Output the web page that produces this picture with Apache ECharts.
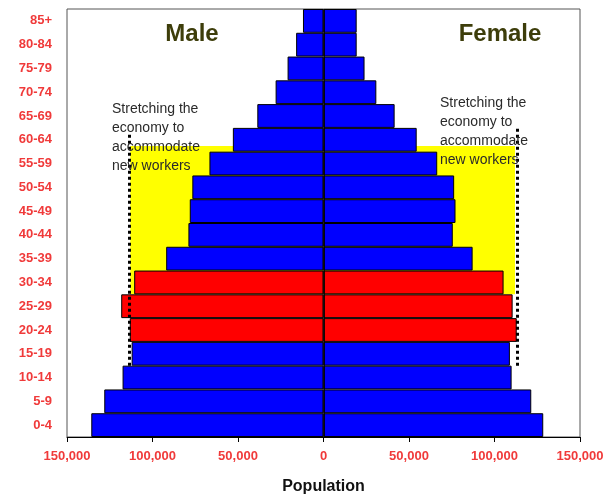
<!DOCTYPE html>
<html>
<head>
<meta charset="utf-8">
<title>Population pyramid</title>
<script src="https://cdn.jsdelivr.net/npm/echarts@6/dist/echarts.min.js"></script>
<style>
    html, body { margin: 0; padding: 0; background: #fff; }
    #chart { width: 610px; height: 496px; }
</style>
</head>
<body>
<div id="chart"></div>
<script>
// age groups, bottom to top
const ageGroups = ['0-4', '5-9', '10-14', '15-19', '20-24', '25-29', '30-34', '35-39', '40-44',
    '45-49', '50-54', '55-59', '60-64', '65-69', '70-74', '75-79', '80-84', '85+'];
const maleValues = [135800, 128200, 117500, 112200, 113300, 118300, 110700, 92000, 79000,
    78200, 76700, 66700, 53000, 38700, 28000, 21000, 16000, 12000];
const femaleValues = [128500, 121500, 110000, 109000, 113000, 110600, 105300, 87200, 75600,
    77200, 76400, 66500, 54500, 41600, 30900, 24000, 19400, 19400];
// the "new workers" cohort shown in red
const highlightGroups = ['20-24', '25-29', '30-34'];
const axisTicks = [-150000, 150000, 50000]; // min, max, step
// shaded working-age block and dotted limits (x in population, y in rows from bottom)
const shadeLeft = [-113000, 0, 6, 12.24];
const shadeRight = [0, 112000, 6, 12.24];
const limitLeft = [-113600, 3, 12.84];
const limitRight = [113300, 3, 13.08];
const noteLines = ['Stretching the', 'economy to', 'accommodate', 'new workers'];

const chart = echarts.init(document.getElementById('chart'));

function barData(values, sign) {
    return values.map((v, i) => ({
        value: sign * v,
        itemStyle: { color: highlightGroups.includes(ageGroups[i]) ? '#ff0000' : '#0000ff' }
    }));
}

const labelColor = '#f03a3a';
const noteStyle = { fill: '#2a2a2a', font: '14px "Liberation Sans", Arial, sans-serif', lineHeight: 19 };

const option = {
    animation: false,
    grid: {
        left: 67, right: 30, top: 9, bottom: 59,
        outerBoundsMode: 'none',
        show: true, borderColor: '#555', borderWidth: 1
    },
    title: [
        { text: 'Male', left: 187, top: 17, textAlign: 'center',
          textStyle: { color: '#3d3d0a', fontSize: 24, fontWeight: 'bold', fontFamily: 'Liberation Sans' } },
        { text: 'Female', left: 495, top: 17, textAlign: 'center',
          textStyle: { color: '#3d3d0a', fontSize: 24, fontWeight: 'bold', fontFamily: 'Liberation Sans' } }
    ],
    graphic: [
        { type: 'text', left: 112, top: 100, z: 10, style: Object.assign({ text: noteLines.join('\n') }, noteStyle) },
        { type: 'text', left: 440, top: 94, z: 10, style: Object.assign({ text: noteLines.join('\n') }, noteStyle) }
    ],
    xAxis: {
        type: 'value',
        min: axisTicks[0],
        max: axisTicks[1],
        interval: axisTicks[2],
        name: 'Population',
        nameLocation: 'middle',
        nameGap: 42,
        nameTextStyle: { color: '#111', fontSize: 16, fontWeight: 'bold', fontFamily: 'Liberation Sans' },
        axisLine: { show: true, lineStyle: { color: '#000' } },
        axisTick: { show: true, length: 5, lineStyle: { color: '#000' } },
        splitLine: { show: false },
        axisLabel: {
            margin: 13,
            color: labelColor,
            fontSize: 13,
            fontWeight: 'bold',
            fontFamily: 'Liberation Sans',
            formatter: v => Math.abs(v).toLocaleString('en-US')
        }
    },
    yAxis: [
        {
            type: 'category',
            data: ageGroups,
            axisLine: { show: false },
            axisTick: { show: false },
            axisLabel: { margin: 15, color: labelColor, fontSize: 13, fontWeight: 'bold', fontFamily: 'Liberation Sans' }
        },
        { type: 'value', min: 0, max: 18, show: false }
    ],
    series: [
        {
            name: 'Male',
            type: 'bar',
            stack: 'pop',
            barCategoryGap: 0,
            z: 2,
            itemStyle: { borderColor: '#000', borderWidth: 1 },
            data: barData(maleValues, -1)
        },
        {
            name: 'Female',
            type: 'bar',
            stack: 'pop',
            barCategoryGap: 0,
            z: 2,
            itemStyle: { borderColor: '#000', borderWidth: 1 },
            data: barData(femaleValues, 1),
            markLine: {
                silent: true,
                symbol: 'none',
                label: { show: false },
                lineStyle: { color: '#000', width: 1.5, type: 'solid' },
                data: [{ xAxis: 0 }]
            }
        },
        {
            name: 'notes',
            type: 'line',
            yAxisIndex: 1,
            data: [],
            markArea: {
                silent: true,
                itemStyle: { color: '#ffff00' },
                data: [
                    [{ xAxis: shadeLeft[0], yAxis: shadeLeft[3] }, { xAxis: shadeLeft[1], yAxis: shadeLeft[2] }],
                    [{ xAxis: shadeRight[0], yAxis: shadeRight[3] }, { xAxis: shadeRight[1], yAxis: shadeRight[2] }]
                ]
            },
            markLine: {
                silent: true,
                symbol: 'none',
                label: { show: false },
                lineStyle: { color: '#000', width: 3, type: [3, 3] },
                data: [
                    [{ xAxis: limitLeft[0], yAxis: limitLeft[1] }, { xAxis: limitLeft[0], yAxis: limitLeft[2] }],
                    [{ xAxis: limitRight[0], yAxis: limitRight[1] }, { xAxis: limitRight[0], yAxis: limitRight[2] }]
                ]
            }
        }
    ]
};

chart.setOption(option);
</script>
</body>
</html>
